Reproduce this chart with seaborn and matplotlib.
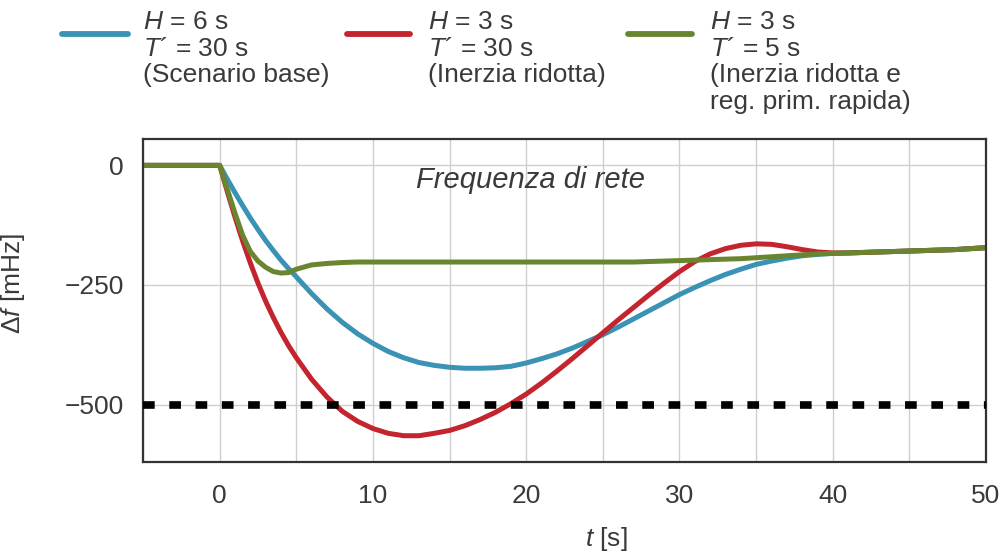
import numpy as np
import pandas as pd
import matplotlib.pyplot as plt
import seaborn as sns
from matplotlib.lines import Line2D

# time axis [s] and frequency deviation [mHz]
t = [-5, 0, 0.5, 1, 1.5, 2, 2.5, 3, 3.5, 4, 4.5, 5, 6, 7, 8, 9, 10,
     11, 12, 13, 14, 15, 16, 17, 18, 19, 20, 21, 22, 23, 24, 25, 26, 27, 28, 29, 30,
     31, 32, 33, 34, 35, 36, 37, 38, 39, 40, 41, 42, 43, 44, 45, 46, 47, 48, 49, 50]

base = [0, 0, -29, -57, -84, -110, -134, -157, -178, -198, -216, -233, -268, -300, -328, -352, -372,
        -389, -402, -412, -418, -422, -424, -424, -423, -420, -413, -404, -394, -382, -368, -354, -338, -321, -304, -287, -270,
        -255, -241, -228, -217, -207, -200, -194, -189, -186, -184, -183, -182, -181, -180, -179, -178, -177, -176, -174, -172]

low_inertia = [0, 0, -55, -108, -158, -204, -246, -284, -318, -349, -377, -402, -447, -484, -514, -535, -550,
               -560, -565, -565, -560, -554, -544, -531, -516, -498, -478, -455, -430, -404, -377, -350, -323, -297, -271, -246, -222,
               -201, -185, -174, -167, -164, -165, -170, -176, -181, -183, -183, -182, -181, -180, -179, -178, -177, -176, -174, -172]

fast_primary = [0, 0, -50, -100, -146, -180, -200, -213, -222, -225, -224, -217, -208, -205, -203, -202, -202,
                -202, -202, -202, -202, -202, -202, -202, -202, -202, -202, -202, -202, -202, -202, -202, -202, -202, -201, -200, -199,
                -198, -197, -196, -195, -193, -191, -189, -187, -185, -184, -183, -182, -181, -180, -179, -178, -177, -176, -174, -172]

limit = -500

labels = ['$\\mathit{H}$ = 6 s\n$\\mathit{T}$´ = 30 s\n(Scenario base)',
          '$\\mathit{H}$ = 3 s\n$\\mathit{T}$´ = 30 s\n(Inerzia ridotta)',
          '$\\mathit{H}$ = 3 s\n$\\mathit{T}$´ = 5 s\n(Inerzia ridotta e\nreg. prim. rapida)']
colors = ['#3a92b4', '#c4242e', '#6a8530']

df = pd.DataFrame({
    't': t * 3,
    'df': base + low_inertia + fast_primary,
    'scenario': [labels[0]] * len(t) + [labels[1]] * len(t) + [labels[2]] * len(t),
})

sns.set_theme(style='white')
plt.rcParams['font.family'] = ['Liberation Sans', 'DejaVu Sans']
plt.rcParams['mathtext.fontset'] = 'custom'
plt.rcParams['mathtext.it'] = 'Liberation Sans:italic'
plt.rcParams['mathtext.rm'] = 'Liberation Sans'
plt.rcParams['axes.unicode_minus'] = True

txt = '#3a3a3a'
fs = 19

fig = plt.figure(figsize=(10.03, 5.54), dpi=100)
ax = fig.add_axes([0.1426, 0.166, 0.8405, 0.583])

sns.lineplot(data=df, x='t', y='df', hue='scenario', hue_order=labels,
             palette=dict(zip(labels, colors)), linewidth=3.6, legend=False, ax=ax)
ax.axhline(limit, color='black', lw=5.5, linestyle=(0, (1.53, 1.91)), zorder=3)

ax.set_xlim(-5, 50)
ax.set_ylim(-620, 55)
ax.set_xticks([0, 10, 20, 30, 40, 50])
ax.set_xticks(np.arange(-5, 51, 5), minor=True)
ax.set_yticks([0, -250, -500])
ax.grid(True, which='both', axis='x', color='#cfcfcf', lw=1)
ax.grid(True, which='major', axis='y', color='#cfcfcf', lw=1)
ax.tick_params(which='both', length=0, labelsize=fs, labelcolor=txt)
ax.tick_params(axis='x', pad=16)
ax.tick_params(axis='y', pad=14)
for s in ax.spines.values():
    s.set_color('#333333')
    s.set_linewidth(1.6)

ax.set_xlabel('$\\mathit{t}$ [s]', fontsize=fs, color=txt)
ax.set_ylabel('Δ$\\mathit{f}$ [mHz]', fontsize=fs, color=txt)
ax.xaxis.set_label_coords(0.549, -0.195)
ax.yaxis.set_label_coords(-0.138, 0.554)

ax.text(20.3, -31, 'Frequenza di rete', style='italic', fontsize=fs + 2,
        color=txt, ha='center', va='center')

# legend on top, drawn by hand to keep the handle next to the first lines
W, H = 1003, 554
line_x = [(62, 128), (347, 410), (628, 692)]
text_x = [143, 428, 710]
for (x0, x1), xt, lab, c in zip(line_x, text_x, labels, colors):
    fig.add_artist(Line2D([x0 / W, x1 / W], [1 - 34 / H, 1 - 34 / H],
                          transform=fig.transFigure, color=c, lw=4.2))
    fig.text(xt / W, 1 - 10 / H, lab, fontsize=fs, color=txt, va='top', ha='left',
             linespacing=1.14)

fig.savefig('out.png', dpi=100)
